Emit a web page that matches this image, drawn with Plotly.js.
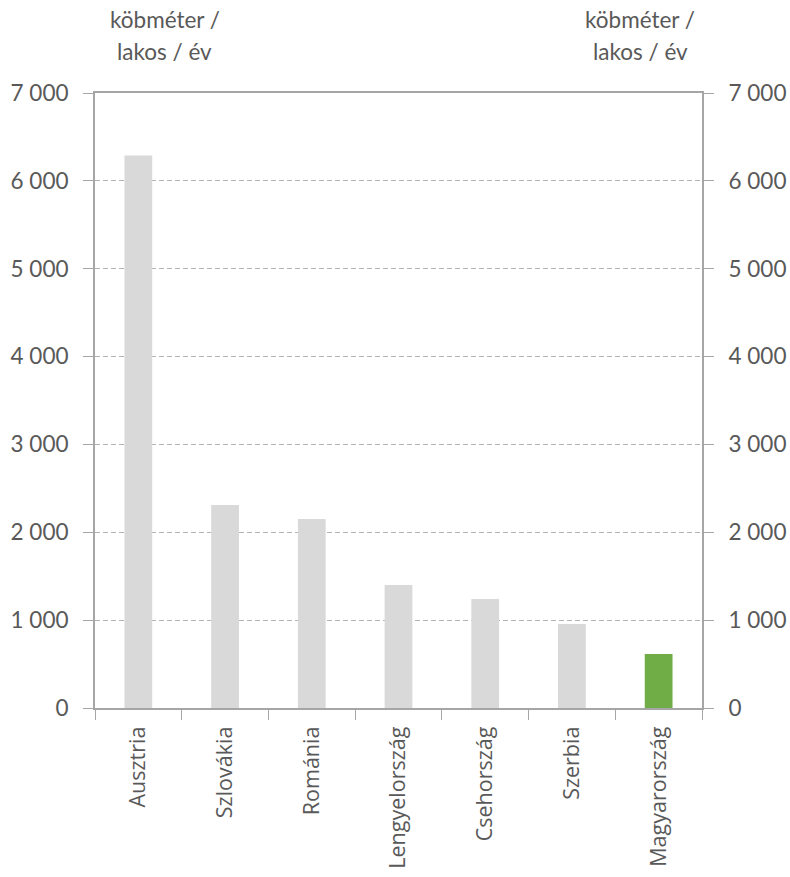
<!DOCTYPE html>
<html><head><meta charset="utf-8">
<script src="https://cdn.plot.ly/plotly-3.0.1.min.js"></script>
<style>html,body{margin:0;padding:0;background:#fff}</style>
</head><body>
<div id="chart" style="width:790px;height:877px"></div>
<script>
const countries = ["Ausztria","Szlovákia","Románia","Lengyelország","Csehország","Szerbia","Magyarország"];
const values = [6290, 2310, 2150, 1400, 1240, 955, 615];
const barColors = ["#d9d9d9","#d9d9d9","#d9d9d9","#d9d9d9","#d9d9d9","#d9d9d9","#70ad47"];
const unitLine1 = "köbméter /";
const unitLine2 = "lakos / év";
const yRange = [0, 7000];

const tickFont = {family: "Lato", size: 22.5, color: "#595959"};

const data = [
  {type: "bar", x: countries, y: values,
   marker: {color: barColors, line: {width: 0}}, hoverinfo: "x+y"},
  {type: "scatter", mode: "markers", x: countries, y: values, yaxis: "y2",
   marker: {opacity: 0, size: 1}, hoverinfo: "skip", showlegend: false}
];

const layout = {
  width: 790, height: 877,
  margin: {l: 95, r: 88, t: 93, b: 169},
  paper_bgcolor: "#fff", plot_bgcolor: "#fff",
  separators: ", ",
  bargap: 0.68,
  showlegend: false,
  xaxis: {
    type: "category",
    tickangle: -90,
    tickfont: {family: "Open Sans", size: 21.5, color: "#595959"},
    ticks: "outside", ticklen: 10, tickcolor: "#a6a6a6", tickwidth: 1,
    tickson: "boundaries", ticklabelstandoff: 8,
    showline: true, linecolor: "#a6a6a6", linewidth: 2, mirror: true,
    showgrid: false, zeroline: false
  },
  yaxis: {
    range: yRange, dtick: 1000, tickformat: ",.0f",
    tickfont: tickFont, ticklabelstandoff: 10,
    ticks: "outside", ticklen: 10, tickcolor: "#a6a6a6",
    showline: true, linecolor: "#a6a6a6", linewidth: 2,
    showgrid: true, gridcolor: "#b4b4b4", griddash: "5px,3px", gridwidth: 1,
    zeroline: false, fixedrange: true
  },
  yaxis2: {
    overlaying: "y", side: "right", anchor: "x",
    range: yRange, dtick: 1000, tickformat: ",.0f",
    tickfont: tickFont, ticklabelstandoff: 10,
    ticks: "outside", ticklen: 10, tickcolor: "#a6a6a6",
    showline: true, linecolor: "#a6a6a6", linewidth: 2,
    showgrid: false, zeroline: false
  },
  annotations: [
    {text: unitLine1, xref: "paper", yref: "paper", x: 0.115, y: 1.119,
     xanchor: "center", yanchor: "middle", showarrow: false, font: tickFont},
    {text: unitLine2, xref: "paper", yref: "paper", x: 0.115, y: 1.067,
     xanchor: "center", yanchor: "middle", showarrow: false, font: tickFont},
    {text: unitLine1, xref: "paper", yref: "paper", x: 0.898, y: 1.119,
     xanchor: "center", yanchor: "middle", showarrow: false, font: tickFont},
    {text: unitLine2, xref: "paper", yref: "paper", x: 0.898, y: 1.067,
     xanchor: "center", yanchor: "middle", showarrow: false, font: tickFont}
  ]
};

Plotly.newPlot("chart", data, layout, {displayModeBar: false, staticPlot: true});
</script>
</body></html>
